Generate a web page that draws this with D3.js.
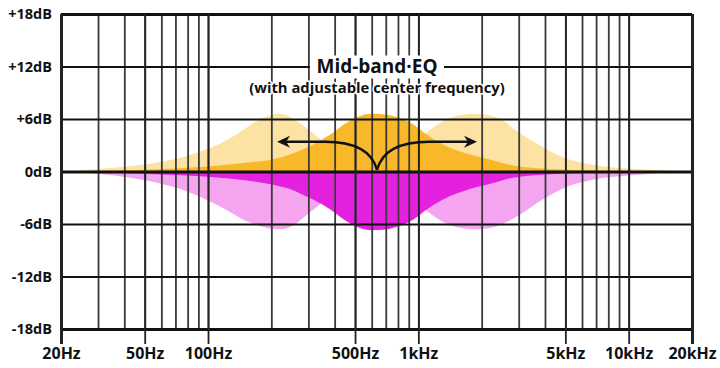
<!DOCTYPE html>
<html>
<head>
<meta charset="utf-8">
<script src="https://cdn.jsdelivr.net/npm/d3@7"></script>
<style>
  body { margin: 0; background: #fff; }
  svg { display: block; font-family: "Open Sans", sans-serif; font-weight: 700; }
</style>
</head>
<body>
<div id="chart"></div>
<script>
// grid + labels
const gridFreqs = [30, 40, 50, 60, 70, 80, 90, 100, 200, 300, 400, 500, 600, 700, 800, 900,
                   1000, 2000, 3000, 4000, 5000, 6000, 7000, 8000, 9000, 10000];
const labelFreqs = [20, 50, 100, 500, 1000, 5000, 10000, 20000];
const labelText = ["20Hz", "50Hz", "100Hz", "500Hz", "1kHz", "5kHz", "10kHz", "20kHz"];
const dbTicks = [18, 12, 6, 0, -6, -12, -18];
const dbLabels = ["+18dB", "+12dB", "+6dB", "0dB", "-6dB", "-12dB", "-18dB"];

// low band position
const lowFreq  = [20, 30, 45, 60, 80, 100, 125, 150, 175, 200, 215, 235, 260, 300, 360, 450, 600, 900, 1500];
const lowBoost = [0, 0.3, 0.7, 1.1, 1.8, 2.6, 3.7, 4.9, 5.9, 6.45, 6.6, 6.45, 5.9, 4.8, 3.3, 1.8, 0.8, 0.2, 0];
const lowCut   = [0, -0.25, -0.8, -1.4, -2.3, -3.3, -4.5, -5.6, -6.2, -6.55, -6.6, -6.5, -6.0, -4.8, -3.3, -1.8, -0.8, -0.2, 0];

// center position
const midFreq  = [20, 40, 70, 100, 150, 204, 245, 274, 316, 380, 458, 528, 600, 680, 792, 944,
                  1100, 1310, 1760, 2200, 2820, 4900, 8400, 14000, 20000];
const midBoost = [0, 0.15, 0.35, 0.57, 1.0, 1.4, 1.95, 2.4, 3.1, 4.2, 5.6, 6.35, 6.6, 6.55, 6.2, 5.4,
                  4.2, 3.1, 1.95, 1.35, 0.7, 0.23, 0.1, 0.03, 0];
const midCut   = [0, -0.2, -0.4, -0.6, -1.0, -1.5, -2.0, -2.5, -3.2, -4.3, -5.7, -6.45, -6.7, -6.65, -6.3, -5.5,
                  -4.3, -3.2, -2.0, -1.4, -0.7, -0.25, -0.1, -0.03, 0];

// high band position
const highFreq  = [300, 500, 700, 900, 1100, 1300, 1550, 1850, 2100, 2450, 2950, 3900, 4900, 6800, 10000, 13000, 17000, 20000];
const highBoost = [0, 0.3, 1.0, 2.6, 4.5, 5.7, 6.4, 6.6, 6.5, 6.0, 4.6, 2.8, 1.6, 0.75, 0.35, 0.2, 0.05, 0];
const highCut   = [0, -0.3, -1.0, -2.6, -4.5, -5.7, -6.4, -6.6, -6.5, -6.1, -5.1, -3.2, -1.9, -0.9, -0.45, -0.22, -0.07, 0];

// annotation arrows: from center freq at 0dB out to these freqs
const arrowCenter = 636;
const arrowEnds = [213, 1900];
const arrowLevel = 3.4;

const W = 720, H = 368;
const margin = {top: 14, right: 28, bottom: 39, left: 61};
const width = W - margin.left - margin.right;
const height = H - margin.top - margin.bottom;

const svg = d3.select("#chart").append("svg")
    .attr("width", W)
    .attr("height", H);

const g = svg.append("g")
    .attr("transform", `translate(${margin.left},${margin.top})`);

const x = d3.scaleLog().domain([20, 20000]).range([0, width]);
const y = d3.scaleLinear().domain([-18, 18]).range([height, 0]);

const area = d3.area()
    .x(d => x(d[0]))
    .y0(y(0))
    .y1(d => y(d[1]))
    .curve(d3.curveMonotoneX);

// light bands first, center band on top
const fills = [
    {f: lowFreq, v: lowBoost, c: "#fde3a3"},
    {f: highFreq, v: highBoost, c: "#fde3a3"},
    {f: lowFreq, v: lowCut, c: "#f5a4f0"},
    {f: highFreq, v: highCut, c: "#f5a4f0"},
    {f: midFreq, v: midBoost, c: "#f8b82a"},
    {f: midFreq, v: midCut, c: "#e521e0"}
];
g.selectAll("path.band")
    .data(fills)
    .join("path")
    .attr("class", "band")
    .attr("fill", d => d.c)
    .attr("d", d => area(d3.zip(d.f, d.v)));

// vertical grid
const vGrid = g.append("g")
    .attr("transform", `translate(0,${height})`)
    .call(d3.axisBottom(x).tickValues(gridFreqs).tickSize(height).tickFormat(""));
vGrid.select(".domain").remove();
vGrid.selectAll("line")
    .attr("y2", -height)
    .attr("stroke", "#3a3a3a")
    .attr("stroke-width", 1.8);

// horizontal grid
const hGrid = g.append("g")
    .call(d3.axisLeft(y).tickValues(dbTicks).tickSize(-width).tickFormat(""));
hGrid.select(".domain").remove();
hGrid.selectAll("line")
    .attr("stroke", "#111")
    .attr("stroke-width", d => (d === 0 || Math.abs(d) === 18) ? 3 : 2);

// x axis: long ticks + labels
const xAxis = g.append("g")
    .attr("transform", `translate(0,${height})`)
    .call(d3.axisBottom(x).tickValues(labelFreqs).tickSize(15).tickPadding(4)
        .tickFormat((d, i) => labelText[i]));
xAxis.select(".domain").remove();
xAxis.selectAll("line")
    .attr("y1", -height)
    .attr("stroke", "#222")
    .attr("stroke-width", d => (d === 20 || d === 20000) ? 3 : 1.8);
xAxis.selectAll("text")
    .attr("fill", "#111")
    .style("font-size", "16px")
    .style("font-family", "Open Sans")
    .style("font-weight", 700);

// y axis labels
const yAxis = g.append("g")
    .call(d3.axisLeft(y).tickValues(dbTicks).tickSize(0).tickPadding(9)
        .tickFormat((d, i) => dbLabels[i]));
yAxis.select(".domain").remove();
yAxis.selectAll("text")
    .attr("fill", "#111")
    .style("font-size", "14.5px")
    .style("font-family", "Open Sans")
    .style("font-weight", 700);

// arrows
const cx = x(arrowCenter), cy = y(0) - 1.5, ly = y(arrowLevel);
arrowEnds.forEach(f => {
    const tx = x(f);
    const s = tx < cx ? -1 : 1;
    g.append("path")
        .attr("fill", "none")
        .attr("stroke", "#111")
        .attr("stroke-width", 2.4)
        .attr("d", `M${cx},${cy} C${cx + s * 5},${ly + 9} ${cx + s * 22},${ly} ${cx + s * 52},${ly} L${tx - s * 8},${ly}`);
    g.append("path")
        .attr("fill", "#111")
        .attr("d", `M${tx},${ly} L${tx - s * 13},${ly - 6} L${tx - s * 9},${ly} L${tx - s * 13},${ly + 6} Z`);
});

// title
const titleX = x(arrowCenter);
g.append("rect")
    .attr("x", titleX - 67)
    .attr("y", y(12) - 11)
    .attr("width", 134)
    .attr("height", 23)
    .attr("fill", "#fff");
g.append("text")
    .attr("x", titleX)
    .attr("y", y(12) + 6.5)
    .attr("text-anchor", "middle")
    .attr("fill", "#111")
    .style("font-size", "19px")
    .text("Mid-band·EQ");
g.append("text")
    .attr("x", titleX)
    .attr("y", y(12) + 26)
    .attr("text-anchor", "middle")
    .attr("fill", "#111")
    .attr("stroke", "#fff")
    .attr("stroke-width", 3)
    .attr("paint-order", "stroke")
    .style("font-size", "14.8px")
    .text("(with adjustable center frequency)");
</script>
</body>
</html>
